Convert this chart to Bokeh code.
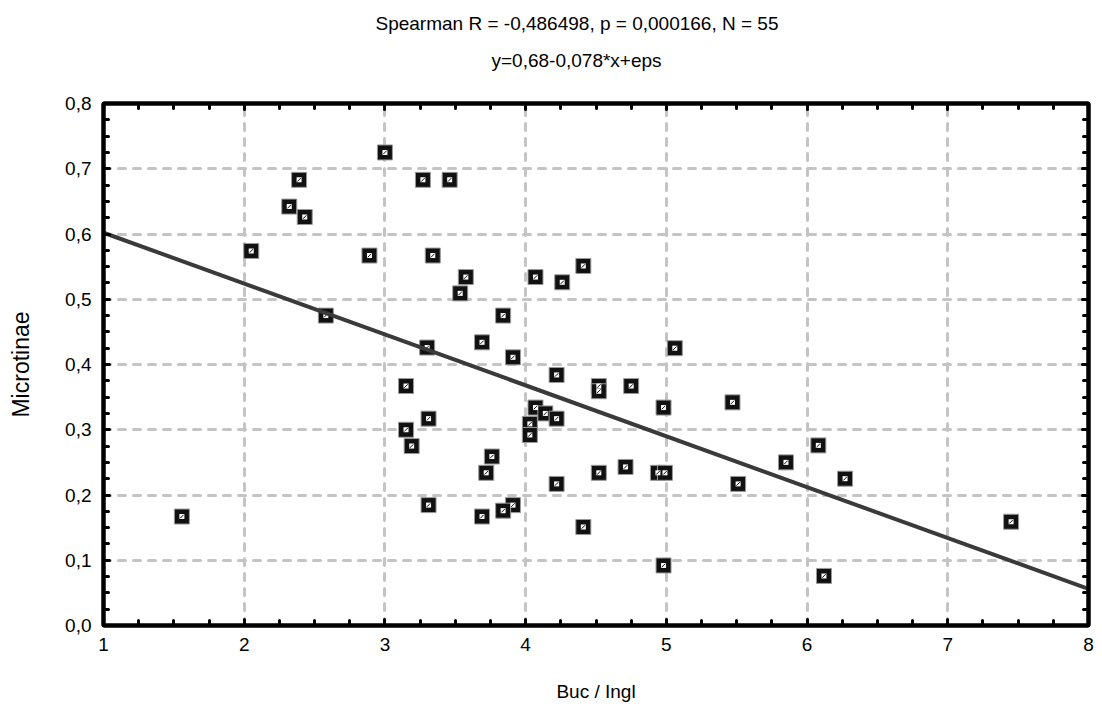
import math
from bokeh.plotting import figure
from bokeh.models import (Range1d, LinearAxis, SingleIntervalTicker,
                          CustomJSTickFormatter, Title, ColumnDataSource)
from bokeh.embed import file_html
from bokeh.resources import INLINE

# ---- data ----
buc_ingl = [3.00, 2.39, 3.27, 3.46, 2.32, 2.43, 2.05, 2.89, 3.34, 4.41,
            3.575, 4.07, 4.26, 3.535, 2.58, 3.84, 3.69, 3.30, 5.06, 3.91,
            4.22, 3.15, 4.52, 4.52, 4.75, 5.47, 4.07, 4.98, 4.14, 4.22,
            3.31, 4.03, 4.03, 3.15, 3.19, 6.08, 3.76, 5.85, 4.71, 3.72,
            4.52, 4.94, 4.99, 6.27, 4.22, 5.51, 3.31, 3.91, 3.84, 3.69,
            1.557, 7.45, 4.41, 4.98, 6.12]
microtinae = [0.725, 0.683, 0.683, 0.683, 0.642, 0.626, 0.574, 0.567, 0.567, 0.551,
              0.534, 0.534, 0.526, 0.509, 0.475, 0.475, 0.434, 0.426, 0.425, 0.411,
              0.384, 0.367, 0.367, 0.359, 0.367, 0.342, 0.334, 0.334, 0.325, 0.317,
              0.317, 0.309, 0.292, 0.300, 0.275, 0.276, 0.259, 0.250, 0.243, 0.234,
              0.234, 0.234, 0.234, 0.225, 0.217, 0.217, 0.1845, 0.1845, 0.176, 0.167,
              0.167, 0.159, 0.151, 0.092, 0.076]
fit_intercept = 0.68
fit_slope = -0.078
x_limits = [1, 8]
y_limits = [0.0, 0.8]
title_line1 = "Spearman R = -0,486498, p = 0,000166, N = 55"
title_line2 = "y=0,68-0,078*x+eps"
x_label = "Buc / Ingl"
y_label = "Microtinae"

FONT = "Liberation Sans"

p = figure(width=1102, height=710,
           x_range=Range1d(*x_limits), y_range=Range1d(*y_limits),
           output_backend="svg", toolbar_location=None,
           min_border_left=103, min_border_right=14,
           min_border_top=103, min_border_bottom=85)
p.background_fill_color = "white"
p.border_fill_color = "white"
p.outline_line_color = "black"
p.outline_line_width = 4

xt = SingleIntervalTicker(interval=1, num_minor_ticks=4)
yt = SingleIntervalTicker(interval=0.1, num_minor_ticks=4)
xf = CustomJSTickFormatter(code="return tick.toFixed(0);")
yf = CustomJSTickFormatter(code="return tick.toFixed(1).replace('.', ',');")

def style_axis(ax):
    ax.axis_line_color = "black"
    ax.axis_line_width = 4
    ax.major_tick_in = 6
    ax.major_tick_out = 0
    ax.major_tick_line_width = 3
    ax.major_tick_line_color = "black"
    ax.major_tick_line_cap = "round"
    ax.minor_tick_in = 5
    ax.minor_tick_out = 0
    ax.minor_tick_line_width = 3
    ax.minor_tick_line_color = "black"
    ax.minor_tick_line_cap = "round"
    ax.major_label_text_font = FONT
    ax.major_label_text_font_size = "19px"
    ax.major_label_text_color = "black"
    ax.axis_label_text_font = FONT
    ax.axis_label_text_font_size = "19px"
    ax.axis_label_text_font_style = "normal"
    ax.axis_label_text_color = "black"

xa = p.xaxis[0]
xa.ticker = xt
xa.formatter = xf
style_axis(xa)
xa.major_label_standoff = 12
xa.axis_label = x_label
xa.axis_label_standoff = 27

ya = p.yaxis[0]
ya.ticker = yt
ya.formatter = yf
style_axis(ya)
ya.major_label_standoff = 12
ya.axis_label = y_label
ya.axis_label_text_font_size = "23px"
ya.axis_label_standoff = 28

# top frame edge: ticks only; a blank axis label reserves the gap under the heading
top = LinearAxis(ticker=xt, formatter=xf)
style_axis(top)
top.major_label_text_color = None
top.major_label_text_font_size = "0px"
top.major_label_standoff = 0
top.axis_label = " "
top.axis_label_standoff = 4
p.add_layout(top, "above")

right = LinearAxis(ticker=yt, formatter=yf)
style_axis(right)
right.major_label_text_color = None
right.major_label_text_font_size = "0px"
right.major_label_standoff = 0
p.add_layout(right, "right")

for g in (p.xgrid[0], p.ygrid[0]):
    g.grid_line_color = "#c4c4c4"
    g.grid_line_width = 3
    g.grid_line_dash = "7 8"
    g.grid_line_cap = "round"

src = ColumnDataSource(dict(x=buc_ingl, y=microtinae))
p.scatter("x", "y", source=src, marker="square", size=15,
          fill_color="#111111", line_color="#9a9a9a", line_width=1)
p.scatter("x", "y", source=src, marker="square", size=5,
          fill_color="white", line_color=None)
p.scatter("x", "y", source=src, marker="dash", size=5, angle=math.pi / 4,
          line_color="#111111", line_width=1)

fit_x = list(x_limits)
fit_y = [fit_intercept + fit_slope * v for v in fit_x]
p.line(fit_x, fit_y, line_color="#3a3a3a", line_width=4)

t2 = Title(text=title_line2, align="left", offset=388, standoff=10,
           text_font=FONT, text_font_size="19px", text_font_style="normal",
           text_color="black")
p.add_layout(t2, "above")
t1 = Title(text=title_line1, align="left", offset=272, standoff=18,
           text_font=FONT, text_font_size="19px", text_font_style="normal",
           text_color="black")
p.add_layout(t1, "above")

open("out.html", "w").write(file_html(p, INLINE))
